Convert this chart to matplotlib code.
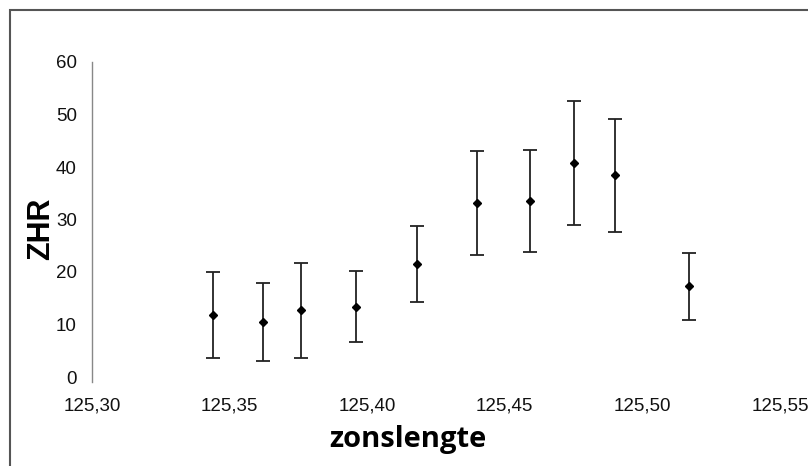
import matplotlib
matplotlib.use("Agg")
import matplotlib.pyplot as plt
from matplotlib.patches import Rectangle
from matplotlib.ticker import FuncFormatter

# zonslengte (solar longitude) vs ZHR with error bars
zonslengte = [125.344, 125.362, 125.376, 125.396, 125.418,
              125.440, 125.459, 125.475, 125.490, 125.517]
zhr = [11.8, 10.5, 12.7, 13.4, 21.5, 33.1, 33.6, 40.8, 38.4, 17.3]
zhr_err = [8.2, 7.4, 9.0, 6.7, 7.2, 9.9, 9.7, 11.8, 10.7, 6.4]

x_ticks = [125.30, 125.35, 125.40, 125.45, 125.50, 125.55]
y_ticks = [0, 10, 20, 30, 40, 50, 60]

W, H = 808, 466
fig = plt.figure(figsize=(W / 100, H / 100), dpi=100)
ax = fig.add_axes([92 / W, 1 - 377 / H, (780 - 92) / W, (377 - 62) / H])

ax.errorbar(zonslengte, zhr, yerr=zhr_err, fmt="D", color="black",
            ecolor="#222222", elinewidth=1.3, capsize=5, capthick=1.3,
            markersize=4)

ax.set_xlim(125.30, 125.55)
ax.set_ylim(0, 60)
ax.set_xticks(x_ticks)
ax.set_yticks(y_ticks)
ax.xaxis.set_major_formatter(FuncFormatter(lambda v, p: f"{v:.2f}".replace(".", ",")))

for s in ["top", "right", "bottom"]:
    ax.spines[s].set_visible(False)
ax.spines["left"].set_color("#888888")
ax.spines["left"].set_linewidth(1.0)
ax.spines["left"].set_bounds(-1, 60)

ax.tick_params(axis="both", length=0, labelsize=13.5,
               labelcolor="#111111")
ax.tick_params(axis="y", pad=11)
ax.tick_params(axis="x", pad=15)
for lbl in ax.get_xticklabels() + ax.get_yticklabels():
    lbl.set_family("Liberation Sans")

fig.text(408 / W, 1 - 440 / H, "zonslengte", ha="center", va="center",
         fontsize=21, fontweight="bold", family="Open Sans")
fig.text(41 / W, 1 - 229 / H, "ZHR", ha="center", va="center",
         rotation=90, fontsize=22, fontweight="bold", family="Liberation Sans")

# outer chart frame (runs off the right and bottom edges)
fig.patches.append(Rectangle((10 / W, -0.1), 1.0, 1 - 9.5 / H + 0.1,
                             transform=fig.transFigure, fill=False,
                             edgecolor="#555555", linewidth=1.5))

fig.savefig("out.png", dpi=100)
